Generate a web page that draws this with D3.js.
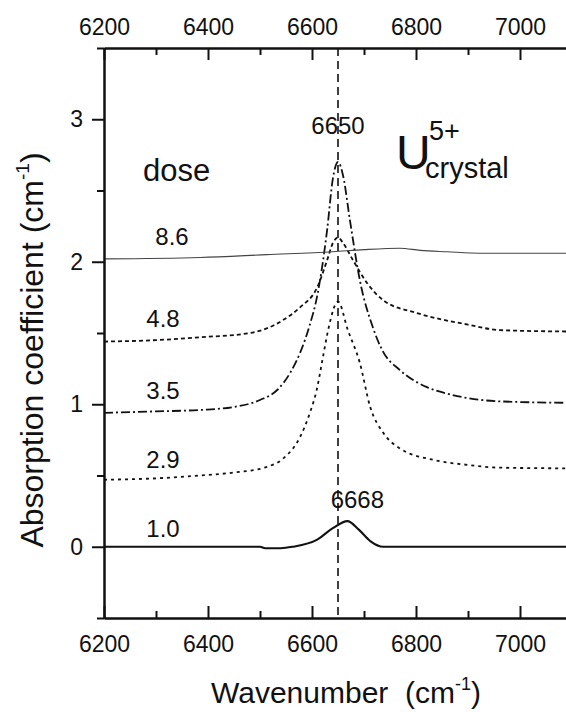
<!DOCTYPE html>
<html>
<head>
<meta charset="utf-8">
<script src="https://cdn.jsdelivr.net/npm/d3@7"></script>
<style>
  body { margin: 0; background: #fff; }
  text { font-family: "Liberation Sans", Arial, Helvetica, sans-serif; fill: #111; }
</style>
</head>
<body>
<svg id="chart" width="566" height="712"></svg>
<script>
// Axis ticks
const majorX = [6200, 6400, 6600, 6800, 7000];
const minorX = [6300, 6500, 6700, 6900, 7100];
const majorY = [0, 1, 2, 3];
const minorY = [-0.5, 0.5, 1.5, 2.5, 3.5];

// Absorption spectra for each dose (wavenumber in cm^-1, absorption in cm^-1)
const wn10 = [6200, 6500, 6510, 6540, 6563, 6610, 6640, 6668, 6690, 6712, 6737, 6750, 7100];
const ab10 = [0, 0, -0.01, -0.01, 0, 0.05, 0.13, 0.18, 0.12, 0.04, 0, 0, 0];

const wn29 = [6200, 6300, 6385, 6448, 6513, 6545, 6577, 6596, 6609, 6621, 6631, 6650, 6669, 6692, 6712, 6737, 6769, 6833, 6898, 6962, 7100];
const ab29 = [0.47, 0.48, 0.50, 0.52, 0.56, 0.62, 0.77, 0.94, 1.10, 1.33, 1.52, 1.72, 1.52, 1.29, 0.98, 0.80, 0.69, 0.61, 0.575, 0.555, 0.55];

const wn35 = [6200, 6300, 6385, 6448, 6500, 6533, 6558, 6577, 6596, 6610, 6629, 6640, 6650, 6660, 6673, 6692, 6717, 6735, 6769, 6821, 6865, 6962, 7100];
const ab35 = [0.94, 0.95, 0.96, 0.98, 1.03, 1.10, 1.22, 1.36, 1.56, 1.76, 2.22, 2.58, 2.70, 2.60, 2.29, 1.87, 1.54, 1.38, 1.24, 1.12, 1.07, 1.02, 1.01];

const wn48 = [6200, 6300, 6385, 6481, 6544, 6577, 6610, 6629, 6640, 6650, 6660, 6679, 6706, 6737, 6802, 6898, 6962, 7100];
const ab48 = [1.44, 1.45, 1.47, 1.50, 1.59, 1.68, 1.82, 2.01, 2.13, 2.17, 2.13, 2.01, 1.85, 1.73, 1.64, 1.56, 1.52, 1.51];

const wn86 = [6200, 6385, 6513, 6640, 6700, 6769, 6808, 6860, 6923, 7100];
const ab86 = [2.02, 2.03, 2.05, 2.07, 2.085, 2.095, 2.08, 2.07, 2.06, 2.06];

// Dose labels, each placed just above its spectrum's left end
const doseLabels = ["1.0", "2.9", "3.5", "4.8", "8.6"];
const doseLabelY = [0.07, 0.55, 1.04, 1.54, 2.12];
const peakMain = 6650;
const peakLow = 6668;

const svg = d3.select("#chart");
const x = d3.scaleLinear().domain([6200, 7100]).range([104, 572]);
const y = d3.scaleLinear().domain([-0.5, 3.5]).range([618, 48]);

// Spectra
const series = [
  { wn: wn10, ab: ab10, width: 2.1, dash: null, color: "#111" },
  { wn: wn29, ab: ab29, width: 1.8, dash: "3,4", color: "#111" },
  { wn: wn35, ab: ab35, width: 1.8, dash: "9,3,2,3", color: "#111" },
  { wn: wn48, ab: ab48, width: 1.8, dash: "4,3", color: "#111" },
  { wn: wn86, ab: ab86, width: 1.1, dash: null, color: "#444" }
];
const line = d3.line()
  .x(d => x(d[0]))
  .y(d => y(d[1]))
  .curve(d3.curveMonotoneX);

svg.append("g").selectAll("path")
  .data(series)
  .join("path")
  .attr("fill", "none")
  .attr("stroke", d => d.color)
  .attr("stroke-width", d => d.width)
  .attr("stroke-dasharray", d => d.dash)
  .attr("d", d => line(d.wn.map((w, i) => [w, d.ab[i]])));

// Peak marker
svg.append("line")
  .attr("x1", x(peakMain)).attr("x2", x(peakMain))
  .attr("y1", y(3.5)).attr("y2", y(-0.5))
  .attr("stroke", "#111").attr("stroke-width", 1.6)
  .attr("stroke-dasharray", "8,5");

// Axes
function styleAxis(g) {
  g.selectAll("path").attr("stroke", "#111").attr("stroke-width", 2);
  g.selectAll("line").attr("stroke", "#111").attr("stroke-width", 2);
  g.selectAll("text").attr("font-size", 23).attr("fill", "#111")
    .attr("font-family", "'Liberation Sans', Arial, sans-serif");
}

// bottom
svg.append("g").attr("transform", `translate(0,${y(-0.5)})`)
  .call(d3.axisBottom(x).tickValues(minorX).tickSizeInner(-7).tickSizeOuter(0).tickFormat(""))
  .call(styleAxis);
svg.append("g").attr("transform", `translate(0,${y(-0.5)})`)
  .call(d3.axisBottom(x).tickValues(majorX).tickSizeInner(-12).tickSizeOuter(0).tickPadding(18).tickFormat(d3.format("d")))
  .call(styleAxis);

// top
svg.append("g").attr("transform", `translate(0,${y(3.5)})`)
  .call(d3.axisTop(x).tickValues(minorX).tickSizeInner(-7).tickSizeOuter(0).tickFormat(""))
  .call(styleAxis);
svg.append("g").attr("transform", `translate(0,${y(3.5)})`)
  .call(d3.axisTop(x).tickValues(majorX).tickSizeInner(-12).tickSizeOuter(0).tickPadding(13).tickFormat(d3.format("d")))
  .call(styleAxis);

// left
svg.append("g").attr("transform", `translate(${x(6200)},0)`)
  .call(d3.axisLeft(y).tickValues(minorY).tickSizeInner(7).tickSizeOuter(0).tickFormat(""))
  .call(styleAxis);
svg.append("g").attr("transform", `translate(${x(6200)},0)`)
  .call(d3.axisLeft(y).tickValues(majorY).tickSizeInner(12).tickSizeOuter(0).tickPadding(9).tickFormat(d3.format("d")))
  .call(styleAxis);

// Dose labels
svg.append("text").attr("x", 143).attr("y", 181).attr("font-size", 31).text("dose");
svg.append("g").selectAll("text")
  .data(doseLabels)
  .join("text")
  .attr("x", (d, i) => i === 4 ? 172 : 163)
  .attr("y", (d, i) => y(doseLabelY[i]))
  .attr("text-anchor", "middle")
  .attr("font-size", 24)
  .text(d => d);

// Peak position labels
svg.append("text").attr("x", x(peakMain)).attr("y", 134)
  .attr("text-anchor", "middle").attr("font-size", 24).text(d3.format("d")(peakMain));
svg.append("text").attr("x", x(peakLow) + 10).attr("y", 508)
  .attr("text-anchor", "middle").attr("font-size", 24).text(d3.format("d")(peakLow));

// Ion label
const ion = svg.append("text").attr("x", 396).attr("y", 169);
ion.append("tspan").attr("font-size", 48).text("U");
ion.append("tspan").attr("x", 429).attr("y", 140).attr("font-size", 27).text("5+");
ion.append("tspan").attr("x", 425).attr("y", 178).attr("font-size", 29).text("crystal");

// Axis titles
const yt = svg.append("text")
  .attr("transform", "translate(43,350) rotate(-90)")
  .attr("text-anchor", "middle")
  .attr("font-size", 32);
yt.append("tspan").text("Absorption coefficient (cm");
yt.append("tspan").attr("font-size", 19).attr("dy", -14).text("-1");
yt.append("tspan").attr("dy", 14).text(")");

const xt = svg.append("text")
  .attr("x", 346).attr("y", 703)
  .attr("text-anchor", "middle")
  .attr("font-size", 30)
  .attr("xml:space", "preserve");
xt.append("tspan").text("Wavenumber  (cm");
xt.append("tspan").attr("font-size", 18).attr("dy", -13).text("-1");
xt.append("tspan").attr("dy", 13).text(")");
</script>
</body>
</html>
